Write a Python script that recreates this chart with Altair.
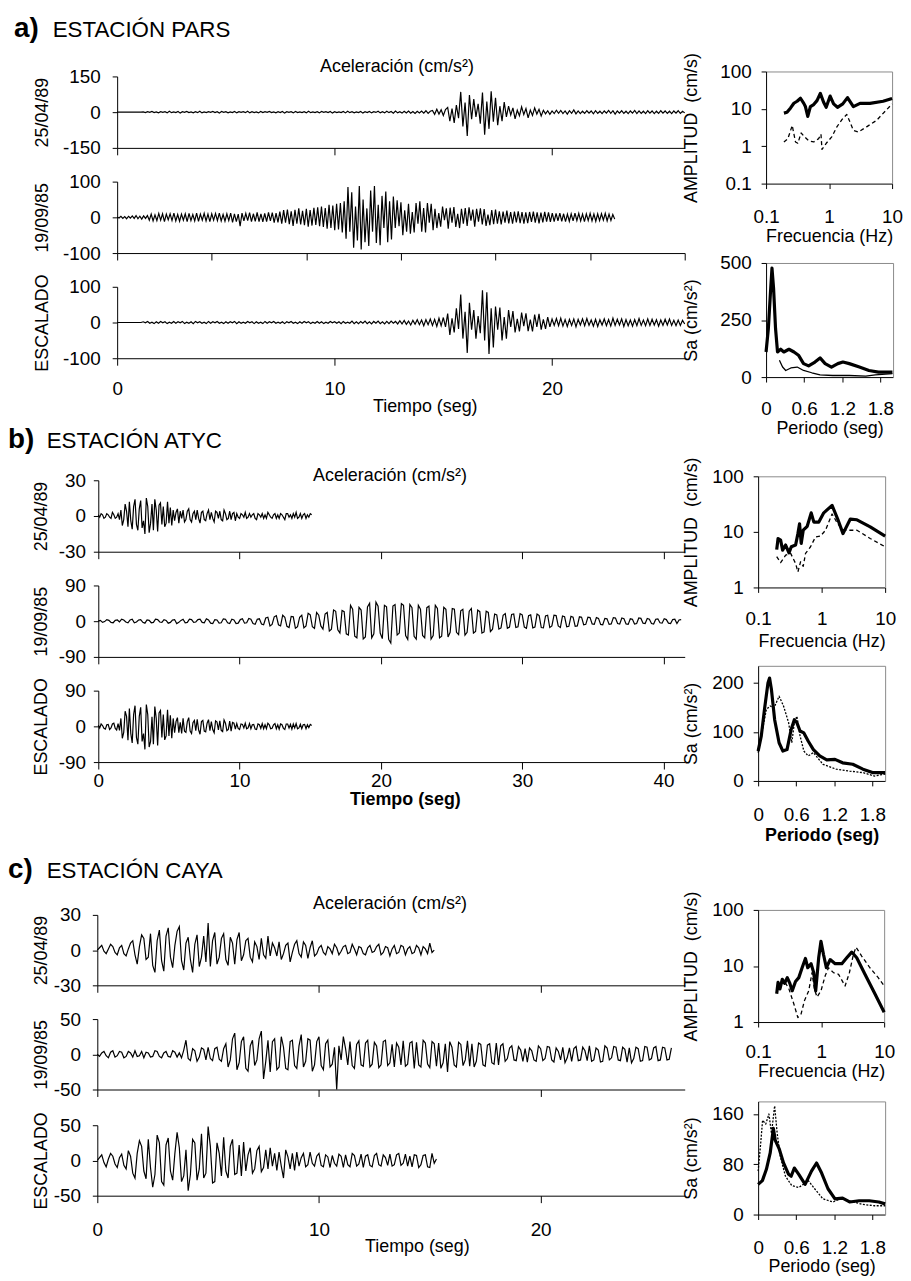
import altair as alt
import pandas as pd

FONT = "Liberation Sans"
W, H = 895, 1265
GREY = "#8a8a8a"
TICK_FS = 19
TITLE_FS = 18

# ---------------- texts ----------------
section_labels = ["a)", "b)", "c)"]
station_names = ["ESTACIÓN PARS", "ESTACIÓN ATYC", "ESTACIÓN CAYA"]
acc_title = "Aceleración (cm/s²)"
trace_titles = ["25/04/89", "19/09/85", "ESCALADO"]
time_title = "Tiempo (seg)"
freq_title = "Frecuencia (Hz)"
per_title = "Periodo (seg)"
amp_title = "AMPLITUD\u00a0 (cm/s)"
sa_title = "Sa (cm/s²)"

# ---------------- tick values ----------------
a_time_ticks = [0, 10, 20]
a2_time_ticks = [0, 10, 20, 30, 40, 50, 60]
b_time_ticks = [0, 10, 20, 30, 40]
c_time_ticks = [0, 10, 20]
a_acc_ticks = [[-150, 0, 150], [-100, 0, 100], [-100, 0, 100]]
b_acc_ticks = [[-30, 0, 30], [-90, 0, 90], [-90, 0, 90]]
c_acc_ticks = [[-30, 0, 30], [-50, 0, 50], [-50, 0, 50]]
freq_ticks = [0.1, 1, 10]
amp_ticks_a = [0.1, 1, 10, 100]
amp_ticks_bc = [1, 10, 100]
per_ticks = [0, 0.6, 1.2, 1.8]
sa_ticks_a = [0, 250, 500]
sa_ticks_b = [0, 100, 200]
sa_ticks_c = [0, 80, 160]

# ---------------- accelerograms (sample step in seconds) ----------------
A_DT = 0.1
a1 = [0, 0, 0, 0, 0, 0, 0, 0, 0, 0, 0, 0,
      1, -2, 2, -1, 3, -2, 1, -3, 2, -1,
      2, -3, 4, -2, 1, -2, 3, -4, 2, -1,
      3, -2, 1, -3, 2, -2, 4, -3, 1, -2,
      2, -1, 3, -2, 2, -4, 3, -1, 2, -3,
      1, -2, 3, -3, 2, -1, 2, -2, 4, -3,
      2, -2, 1, -3, 3, -2, 2, -1, 3, -2,
      1, -3, 2, -2, 3, -4, 2, -1, 2, -3,
      3, -2, 1, -2, 2, -3, 4, -2, 1, -2,
      2, -3, 3, -1, 2, -2, 3, -4, 2, -2,
      1, -2, 3, -3, 4, -2, 2, -3, 1, -2,
      3, -4, 2, -2, 3, -3, 2, -1, 4, -3,
      2, -3, 4, -2, 3, -4, 5, -3, 2, -4,
      4, -3, 5, -4, 3, -5, 4, -3, 5, -4,
      6, -5, 4,
      7, -9, 12, -8, 10, -14, 11,
      20, -38, 15, -45, 30, -25,
      85, -60, 40, -100, 72,
      -30, 55, -20, 35, -48,
      82, -95, 45, -70, 88, -40, 60,
      -55, 25, -38, 42, -20,
      25, -12, 18, -28, 8, -15, 22, -10, 15, -24, 9, -14, 18, -8, 12, -16,
      8, -7, 6, -9, 5, -6, 8, -5, 7, -6,
      5, -8, 6, -5, 9, -7, 5, -6, 4, -5,
      6, -4, 5, -7, 6, -5, 4, -6, 5, -4,
      7, -5, 6, -8, 5, -4, 6, -5, 4, -6,
      5, -4, 7, -6, 5, -5, 4, -6, 6, -4,
      5, -6, 4, -5, 6, -4, 5, -5, 4, -6,
      5, -4, 6, -5, 4, -3]

A2_DT = 0.2
a2 = [1, -2, 3, -3, 2, -4, 3, -2, 4, -3, 5, -4, 3, -5, 4, -3, 5,
      -8, 9, -10, 7, -9, 11, -8, 10, -12, 9,
      -7, 10, -9, 12, -10, 8, -11, 9, -8, 10,
      -12, 11, -9, 8, -10, 12, -11, 9, -8, 11,
      -10, 9, -12, 10, -8, 11, -9, 12, -10, 8,
      -11, 10, -9, 12, -14, 10, -12, 9, -25, 12,
      -10, 11, -9, 13, -12, 10, -11, 14, -12, 10,
      -13, 11, -12, 14, -10, 13, -15, 12, -14,
      16, -18, 20, -15, 22, -19, 17, -24, 21, -18,
      25, -20, 18, -22, 24, -26, 20, -23, 27, -21,
      28, -25, 30, -27, 26,
      -32, 35, -30, 33, -36, 38, -34, 40, -42, 45,
      -60, 85, -40, 70, -85, 30, -65, 88, -90, 50,
      -70, 25, -80, 75, -40, 88, -72, 35, -78, 60,
      -30, 72, -70, 45, -62, 58, -30,
      48, -25, 42, -50, 20, -40, 38, -46, 15, -42,
      40, -18, 45, -40, 26, -42, 40, -15, 38, -36, 24,
      -30, 12, -26, 30, -8, 25, -32, 27, -15, 29,
      -27, 10, -30, 24, -18, 26, -24, 28, -9, 22,
      -26, 24, -12, 25, -20, 23, -24, 8, -22, 20, -19, 22,
      -18, 17, -20, 16, -15, 19, -17, 15, -18, 16,
      -14, 17, -16, 15, -18, 14, -16, 15, -13, 16,
      -15, 14, -17, 13, -14, 15, -12, 14, -13, 12,
      -12, 11, -10, 12, -11, 10, -12, 9, -11, 10,
      -10, 12, -9, 11, -10, 9, -12, 10, -9, 11,
      -10, 9, -11, 10, -9, 10, -8, 11, -10, 9,
      -9, 8, -5]

a3 = [0, 0, 0, 0, 0, 0, 0, 0, 0, 0, 0, 0,
      2, -1, 3, -2, 1, -3, 2, -2, 3, -1,
      2, -3, 1, -2, 3, -2, 2, -1, 3, -3,
      1, -2, 2, -3, 3, -1, 2, -2, 1, -3,
      3, -2, 2, -1, 3, -2, 1, -3, 2, -2,
      2, -1, 3, -3, 2, -2, 1, -2, 3, -1,
      2, -3, 2, -2, 1, -3, 3, -2, 2, -1,
      3, -2, 1, -2, 2, -3, 2, -1, 3, -2,
      1, -3, 2, -2, 3, -1, 2, -3, 1, -2,
      3, -2, 2, -3, 1, -2, 3, -1, 2, -2,
      2, -3, 3, -2, 1, -2, 4, -3, 2, -3,
      3, -2, 4, -3, 2, -4, 3, -2, 4, -3,
      2, -4, 3, -3, 4, -2, 3, -4,
      5, -4, 6, -5, 4, -7, 6, -5, 8, -6, 7, -9, 8, -6, 10, -8, 9, -11, 12, -9, 14, -12,
      25, -35, 12, -28, 40, -18,
      78, -45, 30, -85, 55,
      -20, 35, -45, 18, -30,
      90, -50, 85, -88, 40, -70,
      45, -20, 42, -50, 15, -45, 35, -12, 32, -28, 10,
      -25, 28, -10, 26, -24, 8, -25, 22, -12, 24, -20, 9, -18, 15,
      -12, 10, -8, 11, -9, 12, -10, 8, -11, 9,
      -8, 10, -12, 9, -7, 10, -9, 11, -8, 7,
      -10, 9, -11, 8, -7, 10, -9, 8, -10, 12,
      -8, 9, -7, 10, -11, 8, -9, 7, -10, 8,
      -9, 11, -8, 7, -9, 10, -8, 9, -7, 8,
      -10, 7, -8, 9, -7, 10, -8, 6, -9, 7,
      -8, 6, -4]

B_DT = 0.1
b1 = [1, -1, 2, 1, -2, -1, 2, 1, -1, -2, 3, 1, -2, -1, 2, -3,
      5, -8, -3, 10, 4, -9, 12, -4, -11, 8,
      14, -7, -12, 6, 13, -10, -4, -15, 15, 8,
      -14, -6, 10, -12, 14, 5, -13, 9, 11, -7,
      8, -9, -6, 12, -6, 7,
      -8, 5, -4, 3, 6, -6, 4, -2, 5, -5,
      -3, 4, 6, -3, -5, 2, 4, -3, 5, -2,
      -6, 3, 4, -3, -4, 2, 5, -3, 3, -2,
      -5, 4, 3, -2, 4, -3, -4, 5, 2, -3,
      -2, 4, -3, 2, 3, -4,
      2, -1, -2, 2, 1, -1, 3, -2, -1, 2,
      -1, 1, 2, -2, -3, 2, 1, -1, 2, -2,
      1, -2, 3, 1, -1, -2, 1, 2, -2, 1,
      -2, 2, 1, -1, -3, 2, 2, -1, 1, -2,
      2, -1, 3, -2, -1, 2, -2, 1, 2, -2,
      1, -1, 2, 1]

B2_DT = 0.15
b2 = [0, 2, -3, -1, 4, 2, -3, -4, 2, 3,
      -2, 5, 3, -2, -4, 3, 5, -4, -2, 3,
      4, -3, -5, 3, 2, -4, -3, 5, 4, -2,
      -3, 4, 2, -5, -3, 3, 4, -6, -3, 2,
      5, -4, -3, 5, 4, -3, -2, 4, 5, -3,
      -4, 6, 3, -5, -6, 4, 3, -5, -4, 6,
      5, -4, -6, 5, 3, -6, -5, 4, 6, -5,
      -4, 7, 5, -6, -8, 5, 6, -7,
      -9, 8, 10, -12, -8, 11, 14, -9, -12, 15,
      10, -13, -16, 12, 11, -18, -14, 10, 15, -17,
      -12, 20, 16, -14, -18, 22, 15, -12, -20, 18,
      22, -25,
      -20, 28, 25, -22, -30, 27, 24, -32,
      -35, 40, 30, -38, -42, 35, 28, -45, -40, 36,
      45, -42, -32, 48, 38, -30, -44, 40, 36, -46,
      -55, 38, 42, -35, -30, 44, 40, -36, -46, 42,
      34, -38, -45, 40, 30, -36, -42, 34, 38, -45,
      -36, 40, 32, -42, -38, 35, 30, -40, -28,
      32, 30, -28, -34, 26, 30, -35, -28, 25, 32,
      -30, -26, 28, 24, -30, -27, 25, 22, -26,
      -20, 18, 16, -20, -17, 15, 19, -18, -15, 17,
      18, -16, -14, 19, 16, -15, -18, 14, 16, -17,
      -15, 18, 14, -16, -17, 13, 15, -16, -12, 15,
      14, -12, -16, 13, 11, -14, -13, 12, 10, -13,
      -12, 11,
      10, -9, -8, 10, 9, -7, -8, 9, 7, -8,
      -9, 7, 6, -8, -7, 9, 8, -6, -7, 8,
      6, -7, -8, 6, 5, -7, -6, 8, 7, -5,
      -6, 7, 5, -6, -7, 5, 6, -4, -5, 6,
      4, -5, -6, 4, 5, -6, 3, 4]

b3 = [3, -4, 6, 2, -5, -7, 4, 5, -8, -4, 6, 8, -5, -9, 7, -10,
      20, -30, -15, 38, 25, -35, 45, -18, -42, 30,
      52, -28, -45, 25, 48, -38, -18, -58, 55, 30,
      -52, -38, 24, -45, 50, 20, -48, 34, 40, -28,
      30, -34, -24, 42, -24, 28,
      -30, 20, -16, 12, 22, -16, 10, -18, 20, -12,
      -15, 12, 22, -12, -18, 9, 15, -11, 18, -9,
      -20, 12, 15, -12, -14, 8, 17, -11, 12, -8,
      -16, 14, 11, -9, 14, -10, -13, 16, 8, -11,
      -8, 13, -12, 10, 8, -7,
      7, -5, -8, 6, 5, -4, 8, -6, -4, 7,
      -6, 4, 5, -7, -8, 6, 4, -5, 7, -6,
      4, -6, 8, 4, -6, -5, 4, 7, -6, 4,
      -7, 6, 4, -5, -8, 6, 6, -4, 5, -7,
      6, -4, 7, -6, -4, 5, -6, 4, 5, -6,
      4, -3, 5, 2]

C_DT = 0.1
c1 = [0, 2, 4, -1, -3, 1, 5, 3, -2, -4, 2, 4, -3, -5, 1, 6,
      8, -4, -12, 3, 13, 10, -8, -6, 14,
      -13, -19, 8, 17, -9, -18,
      12, 19, -6, -15, 4, 16, 20, -9, -17,
      6, 11, -8, -19, 5, 13, -14, -6, 12,
      -10, 23, -14,
      8, 15, -12, -6, 10, 14, -8, -13, 11, 6, -12, 9, 15,
      -9, -4, 8, 10, -6, -10, 7, 3, -8, 10, -4, -7, 12, -5,
      6, 2, -5, 7, -8, -3, 4, 6, -10, -2, 5,
      8, -3, -6, 7, 4, -7, 2, 8, -5,
      -3, 2, 4, -2, -4, 3, 1, -3, 5, 2,
      -4, -1, 3, 4, -3, -2, 5, 1, -4, 3,
      2, -3, -4, 2, 4, -2, -1, 3, 5, -4,
      -2, 3, 2, -5, 1, 4, -3, -2, 4, 3,
      -4, 1, 3, -3, -2, 4, 2, -4, 3, 1,
      -3, 6, -2, 0]

c2 = [0, -3, 2, 4, -2, -5, 3, 5, -4, -2,
      4, 3, -5, -3, 4, 2, -4, 5, -3, -2,
      4, -5, 3, 2, -4, -3, 5, 4, -3, -5,
      2, 4, -3, -4, 5, 3, -4, 2, -5, 6,
      20, -6, -9, 8, 5, -10, -4, 9, 7, -8, 10, -6, -9, 8, 10, -7, -10, 8,
      15, -18, -8, 22, 30, -22, -12, 18, 25, -20, -24, 12, 20, -16, -8, 22, 33,
      -35, -10, 20, -25, 18, 22, -22, -18, 25, 10, -20, -22, 18, 20, -16,
      -20, 12, 28, -18, -10, 22, 20, -24, -15, 18, 25, -16, -22, 15, 20, -18, -14,
      10, -50, 12, -8,
      25, 8, -15,
      18, -16, -20, 14, 19, -15, -17, 16, 20, -18,
      -14, 17, 12, -19, -15, 18, 20, -16, -12, 14,
      -18, 16, 10, -15, 19, -17, -14, 16, 18, -20,
      17, -15, -18, 20, 16, -14, -19, 18, 15, -17,
      16, -20, -12, 15, -25,
      18, 10, -15, -18, 17, 14, -16, -8, 19, -17,
      15, -18, -10, 16, 14, -15, -17, 13, 15, -12,
      -14, 16, -15, 12, 15,
      -10, -6, 9, 12, -8, -9, 11, 6, -10, 8,
      -11, 9, 5, -8, -10, 12, 8, -9, -6, 11,
      10, -8, -11, 9, 4, -8, 10, -12, -5, 9,
      -10, 8, 11, -9, -8, 10, 5, -9, 12, -10,
      -8, 9, 6, -11, -10, 12, 9, -8, -5, 11,
      10, -8, -9, 10, 7, -11, 9, -12, -6, 10,
      8, -10, -9, 11, 10, -8, -6, 9, 11, -9,
      -8, 10, 9, -8, -7, 9]

c3 = [0, 4, 8, -3, -9, 2, 10, 6, -5, -10, 4, 9, -7, -12, 14,
      6, -18, -25, 10, 28, 20, -15, -26, 30, -10,
      -38, -20, 36, 25, -30, -35,
      22, 32, -15, -28, 10, 40, 18, -30, -22,
      15, -43, -20, 30, 25, -28, -12, 38, -25,
      -18, 48, 20, -32, -30,
      25, 10, -22, 33, -15, -25, 20, 30, -20, -18, 22, -22, 26,
      -15, 8, 18, -18, -12, 14, 20, -16, -10, 15, -12, 18, -8,
      10, -14, 12, -8, -25, 15, 5, -12, 10, -14, 12,
      -8, 4, 10, -9, -6, 12, -4, -8, 6, 10,
      -7, -9, 8, 5, -10, 7, -4, -8, 9, 6,
      -10, 8, -6, -9, 10, 7, -8, -5, 9, -10,
      6, 8, -7, -9, 7, 10, -6, -8, 8, 4,
      -7, 9, -8, -6, 8, 10, -7, -4, 9, -8,
      6, -9, 8, 7, -10, -6, 7, 8, -9, -10,
      10, -4, 2]

# ---------------- Fourier amplitude spectra ----------------
fa_f1 = [0.192, 0.215, 0.245, 0.276, 0.311, 0.352, 0.397, 0.421, 0.459, 0.505, 0.57, 0.643, 0.726,
         0.819, 0.90, 1.04, 1.18, 1.36, 1.65, 1.96, 2.43, 3.1, 4.45, 7.2, 10]
fa_a1 = [7.7, 8.1, 10.6, 14.1, 16, 19.2, 14, 11.5, 6.3, 11.5, 13, 16.6, 26,
         15, 11, 22, 13.6, 11, 13.6, 20, 11.5, 14, 14, 16, 19]
fa_f2 = [0.192, 0.222, 0.26, 0.293, 0.319, 0.36, 0.406, 0.475, 0.57, 0.683, 0.744, 0.771, 0.902,
         1.11, 1.33, 1.59, 1.91, 2.15, 2.43, 2.92, 3.94, 5.66, 10]
fa_a2 = [1.3, 1.6, 3.6, 1.3, 1.2, 2.26, 1.8, 1.4, 1.3, 1.6, 2.1, 0.82, 1.2,
         1.8, 3.3, 5.1, 7.1, 4.4, 2.65, 2.4, 3.3, 4.9, 13.6]

fb_f1 = [0.196, 0.206, 0.226, 0.243, 0.271, 0.306, 0.333, 0.389, 0.423, 0.449, 0.477, 0.513,
         0.593, 0.685, 0.754, 0.903, 1.08, 1.46, 1.79, 2.17, 2.83, 3.6, 5.82, 10]
fb_a1 = [4.8, 7.6, 7.1, 4.7, 5.8, 4.2, 5.4, 5.8, 9.3, 14, 6.2, 10.7,
         12.6, 22, 15, 15, 22, 30, 17, 9.3, 17, 16.5, 12.3, 8.4]
fb_f2 = [0.196, 0.226, 0.271, 0.325, 0.389, 0.423, 0.466, 0.513, 0.558, 0.669, 0.80, 0.959,
         1.15, 1.46, 1.79, 2.22, 3.6, 5.82, 10]
fb_a2 = [3.6, 2.8, 3.8, 4.1, 2.7, 1.9, 2.9, 2.4, 4.1, 5.4, 8.1, 8.4,
         10.7, 21, 14, 10.7, 10.7, 7.6, 5.4]

fc_f1 = [0.197, 0.207, 0.222, 0.242, 0.263, 0.29, 0.319, 0.347, 0.392, 0.442, 0.499, 0.563, 0.613,
         0.692, 0.762, 0.819, 0.914, 0.994, 1.09, 1.21, 1.39, 1.67, 2.13, 2.55, 3.06, 3.67, 4.96,
         7.13, 10]
fc_a1 = [3.2, 5.1, 3.9, 5.8, 4.9, 6.2, 4.9, 3.6, 5.3, 6.2, 9.3, 13.6, 9.3,
         11, 7.6, 3.6, 14, 27.6, 16, 9.3, 13, 11, 11, 14, 17.7, 14, 7.1,
         3.2, 1.5]
fc_f2 = [0.197, 0.227, 0.263, 0.308, 0.369, 0.427, 0.481, 0.543, 0.635, 0.717, 0.781, 0.86,
         0.994, 1.16, 1.31, 1.57, 1.89, 2.4, 2.81, 3.25, 3.58, 4.4, 5.94, 8.05, 10]
fc_a2 = [3.6, 4.7, 5.3, 3.9, 2.1, 1.2, 1.4, 2.4, 3.6, 7.6, 3.9, 2.8,
         3.6, 6.7, 9.3, 7.6, 7.1, 4.4, 7.6, 16, 21.6, 15, 9.3, 6.2, 4.4]

# ---------------- response spectra ----------------
sa_T1 = [0, 0.036, 0.067, 0.093, 0.118, 0.149, 0.18, 0.23, 0.28, 0.36, 0.44, 0.51, 0.59, 0.67,
         0.77, 0.85, 0.93, 1.03, 1.13, 1.21, 1.31, 1.47, 1.62, 1.77, 1.99]
sa_v1 = [110, 213, 360, 478, 390, 213, 110, 122, 110, 122, 110, 96, 59, 49,
         66, 84, 59, 44, 59, 66, 59, 44, 29, 22, 22]
sa_T2 = [0.21, 0.26, 0.31, 0.39, 0.49, 0.59, 0.72, 0.85, 1.05, 1.31, 1.57, 1.72, 1.99]
sa_v2 = [74, 44, 29, 40, 44, 29, 19, 10, 7, 7, 4, 10, 15]

sb_T1 = [0, 0.05, 0.10, 0.155, 0.18, 0.21, 0.26, 0.33, 0.39, 0.455, 0.52, 0.57, 0.61, 0.66,
         0.72, 0.79, 0.87, 0.97, 1.08, 1.21, 1.33, 1.49, 1.65, 1.80, 2.0]
sb_v1 = [61, 92, 146, 200, 210, 186, 125, 78, 61, 64, 105, 125, 119, 102,
         98, 81, 64, 51, 43, 44, 37, 34, 24, 17, 17]
sb_T2 = [0, 0.05, 0.09, 0.13, 0.19, 0.25, 0.33, 0.40, 0.48, 0.53, 0.57, 0.61, 0.66, 0.72,
         0.79, 0.87, 1.02, 1.23, 1.44, 1.65, 1.83, 2.0]
sb_v2 = [58, 92, 119, 146, 153, 149, 173, 153, 119, 78, 119, 132, 92, 61,
         51, 58, 34, 24, 20, 17, 10, 14]

sc_T1 = [0, 0.067, 0.13, 0.19, 0.24, 0.27, 0.33, 0.40, 0.48, 0.52, 0.57, 0.64, 0.74, 0.84,
         0.92, 1.0, 1.10, 1.21, 1.33, 1.44, 1.59, 1.75, 1.90, 2.0]
sc_v1 = [48, 54, 72, 98, 137, 118, 105, 82, 64, 61, 74, 64, 48, 69,
         82, 66, 41, 25, 26, 20, 22, 22, 20, 17]
sc_T2 = [0, 0.04, 0.07, 0.12, 0.17, 0.21, 0.26, 0.30, 0.35, 0.43, 0.53, 0.64, 0.71, 0.79,
         0.89, 1.02, 1.18, 1.31, 1.46, 1.65, 1.83, 2.0]
sc_v2 = [69, 113, 150, 144, 160, 129, 173, 129, 92, 61, 46, 43, 48, 54,
         41, 25, 20, 26, 21, 16, 14, 14]

# ---------------- helpers ----------------
LBL = "datum.value < 0 ? '-' + abs(datum.value) : '' + datum.value"
layers = []


def add_text(txt, x, y, size, weight="normal", align="left", baseline="alphabetic"):
    layers.append(
        alt.Chart(pd.DataFrame({"s": [txt]}))
        .mark_text(align=align, baseline=baseline, fontSize=size, fontWeight=weight,
                   font=FONT, color="black")
        .encode(x=alt.value(x), y=alt.value(y), text="s:N")
    )


def ax_left(x_px, vals, title, title_px, y_top, y_bot, pad=12):
    return alt.Axis(orient="left", offset=-x_px, values=vals, title=title,
                    titleX=title_px - x_px, titleY=(y_top + y_bot) / 2, titleAngle=270,
                    titleAlign="center", titleBaseline="middle", titleFontWeight="normal",
                    titleFontSize=TITLE_FS, labelFontSize=TICK_FS, tickSize=5,
                    labelPadding=pad, labelExpr=LBL, labelFlush=False, labelOverlap=False,
                    grid=False, domainColor="black", tickColor="black")


def ax_bottom(y_px, vals, labels, title=None, title_x=0, lab_off=31, tit_off=49,
              weight="normal", tick=7):
    kw = dict(orient="bottom", offset=y_px - H, values=vals, labels=labels, tickSize=tick,
              labelPadding=lab_off - tick, labelBaseline="middle", labelExpr=LBL,
              labelFlush=False, labelOverlap=False, grid=False, labelFontSize=TICK_FS,
              domainColor="black", tickColor="black")
    if title:
        kw.update(title=title, titleX=title_x, titleY=tit_off, titleAlign="center",
                  titleBaseline="middle", titleFontWeight=weight, titleFontSize=TITLE_FS)
    else:
        kw.update(title=None)
    return alt.Axis(**kw)


def ax_top(y_px):
    return alt.Axis(orient="top", offset=-y_px, labels=False, ticks=False, grid=False,
                    domainColor=GREY, title=None)


def ax_right(x_px):
    return alt.Axis(orient="right", offset=x_px - W, labels=False, ticks=False, grid=False,
                    domainColor=GREY, title=None)


def trace(vals, dt, xdom, x0, x1, ydom, y0, y1, xax, yax):
    df = pd.DataFrame({"t": [round(i * dt, 3) for i in range(len(vals))], "a": vals})
    layers.append(
        alt.Chart(df).mark_line(color="black", strokeWidth=1.2)
        .encode(
            x=alt.X("t:Q", scale=alt.Scale(domain=xdom, range=[x0, x1], zero=False, nice=False),
                    axis=xax),
            y=alt.Y("a:Q", scale=alt.Scale(domain=ydom, range=[y1, y0], zero=False, nice=False),
                    axis=yax),
        )
    )


def spec(xs, ys, xdom, x0, x1, ydom, y0, y1, xax, yax, logx, logy, width, dash=None):
    df = pd.DataFrame({"x": xs, "y": ys})
    mk = dict(color="black", strokeWidth=width, strokeJoin="round")
    if dash:
        mk["strokeDash"] = dash
    if logx:
        xs_ = alt.Scale(type="log", domain=xdom, range=[x0, x1], nice=False)
    else:
        xs_ = alt.Scale(domain=xdom, range=[x0, x1], zero=False, nice=False)
    if logy:
        ys_ = alt.Scale(type="log", domain=ydom, range=[y1, y0], nice=False)
    else:
        ys_ = alt.Scale(domain=ydom, range=[y1, y0], zero=False, nice=False)
    layers.append(
        alt.Chart(df).mark_line(**mk)
        .encode(x=alt.X("x:Q", scale=xs_, axis=xax), y=alt.Y("y:Q", scale=ys_, axis=yax))
    )


def section(idx, geo, traces, fourier, sa):
    add_text(section_labels[idx], geo["hx"], geo["hy"], 28, weight="bold")
    add_text(station_names[idx], geo["sx"], geo["hy"], 22.5)
    add_text(acc_title, geo["acc"][0], geo["acc"][1], 18, align="center", baseline="middle")
    x0, x1 = geo["x0"], 682
    for k, (vals, dt, xdom, xticks, yt, yb, ydom, yticks) in enumerate(traces):
        last = k == 2
        xax = ax_bottom(yb, xticks, last, title=time_title if last else None,
                        title_x=geo["tx"], lab_off=geo["tlab"], tit_off=geo["ttit"],
                        weight=geo.get("tw", "normal"))
        yax = ax_left(x0, yticks, trace_titles[k], geo["ytx"], yt, yb, pad=geo["ypad"])
        trace(vals, dt, xdom, x0, x1, ydom, yt, yb, xax, yax)
    (f1, a1_, f2, a2_, fx0, fx1, fyt, fyb, fdom, fticks, flab, ftit) = fourier
    spec(f2, a2_, [0.1, 10], fx0, fx1, fdom, fyt, fyb, ax_top(fyt), ax_right(fx1),
         True, True, 1.3, dash=[4, 3])
    spec(f1, a1_, [0.1, 10], fx0, fx1, fdom, fyt, fyb,
         ax_bottom(fyb, freq_ticks, True, title=freq_title, title_x=(fx0 + fx1) / 2,
                   lab_off=flab, tit_off=ftit, tick=5),
         ax_left(fx0, fticks, amp_title, 689, fyt, fyb, pad=10),
         True, True, 3.2)
    (t1, v1, t2, v2, sx0, sx1, syt, syb, sdom, sticks, slab, stit, sw, sdash) = sa
    spec(t2, v2, [0, 2], sx0, sx1, sdom, syt, syb, ax_top(syt), ax_right(sx1),
         False, False, 1.3, dash=sdash)
    spec(t1, v1, [0, 2], sx0, sx1, sdom, syt, syb,
         ax_bottom(syb, per_ticks, True, title=per_title, title_x=(sx0 + sx1) / 2,
                   lab_off=slab, tit_off=stit, tick=5, weight=sw),
         ax_left(sx0, sticks, sa_title, 689, syt, syb, pad=10),
         False, False, 3.2)


section(0,
        dict(hx=6, hy=24, sx=45, acc=(392, 55), x0=110, ytx=35, ypad=12,
             tx=420, tlab=31, ttit=49),
        [(a1, A_DT, [0, 26.1], a_time_ticks, 64, 136, [-150, 150], a_acc_ticks[0]),
         (a2, A2_DT, [0, 60], a2_time_ticks, 170, 242, [-100, 100], a_acc_ticks[1]),
         (a3, A_DT, [0, 26.1], a_time_ticks, 276, 348, [-100, 100], a_acc_ticks[2])],
        (fa_f1, fa_a1, fa_f2, fa_a2, 764, 891, 59, 172, [0.1, 100], amp_ticks_a, 33, 53),
        (sa_T1, sa_v1, sa_T2, sa_v2, 764, 892, 252, 367, [0, 500], sa_ticks_a, 32, 52, "normal",
         None))

section(1,
        dict(hx=0, hy=438, sx=39, acc=(385, 467), x0=91, ytx=34, ypad=8,
             tx=400, tlab=19, ttit=38, tw="bold"),
        [(b1, B_DT, [0, 41.5], b_time_ticks, 471, 543, [-30, 30], b_acc_ticks[0]),
         (b2, B2_DT, [0, 41.5], b_time_ticks, 577, 649, [-90, 90], b_acc_ticks[1]),
         (b3, B_DT, [0, 41.5], b_time_ticks, 683, 755, [-90, 90], b_acc_ticks[2])],
        (fb_f1, fb_a1, fb_f2, fb_a2, 756, 884, 467, 579, [1, 100], amp_ticks_bc, 31, 55),
        (sb_T1, sb_v1, sb_T2, sb_v2, 756, 884, 658, 774, [0, 235], sa_ticks_b, 34, 55, "bold",
         [2, 1.5]))

section(2,
        dict(hx=0, hy=872, sx=39, acc=(385, 898), x0=90, ytx=34, ypad=12,
             tx=412, tlab=34, ttit=51),
        [(c1, C_DT, [0, 26.5], c_time_ticks, 909, 980, [-30, 30], c_acc_ticks[0]),
         (c2, C_DT, [0, 26.5], c_time_ticks, 1014, 1085, [-50, 50], c_acc_ticks[1]),
         (c3, C_DT, [0, 26.5], c_time_ticks, 1121, 1192, [-50, 50], c_acc_ticks[2])],
        (fc_f1, fc_a1, fc_f2, fc_a2, 756, 883, 904, 1017, [1, 100], amp_ticks_bc, 30, 50),
        (sc_T1, sc_v1, sc_T2, sc_v2, 756, 884, 1097, 1211, [0, 180], sa_ticks_c, 33, 52, "normal",
         [2, 1.5]))

chart = (
    alt.layer(*layers)
    .resolve_scale(x="independent", y="independent")
    .resolve_axis(x="independent", y="independent")
    .properties(width=W, height=H, padding=0)
    .configure(font=FONT)
    .configure_view(stroke=None)
    .configure_axis(labelFont=FONT, titleFont=FONT, labelColor="black", titleColor="black",
                    domainWidth=1, tickWidth=1, grid=False)
)

chart.save("out.html", embed_options={"renderer": "svg", "actions": False})
